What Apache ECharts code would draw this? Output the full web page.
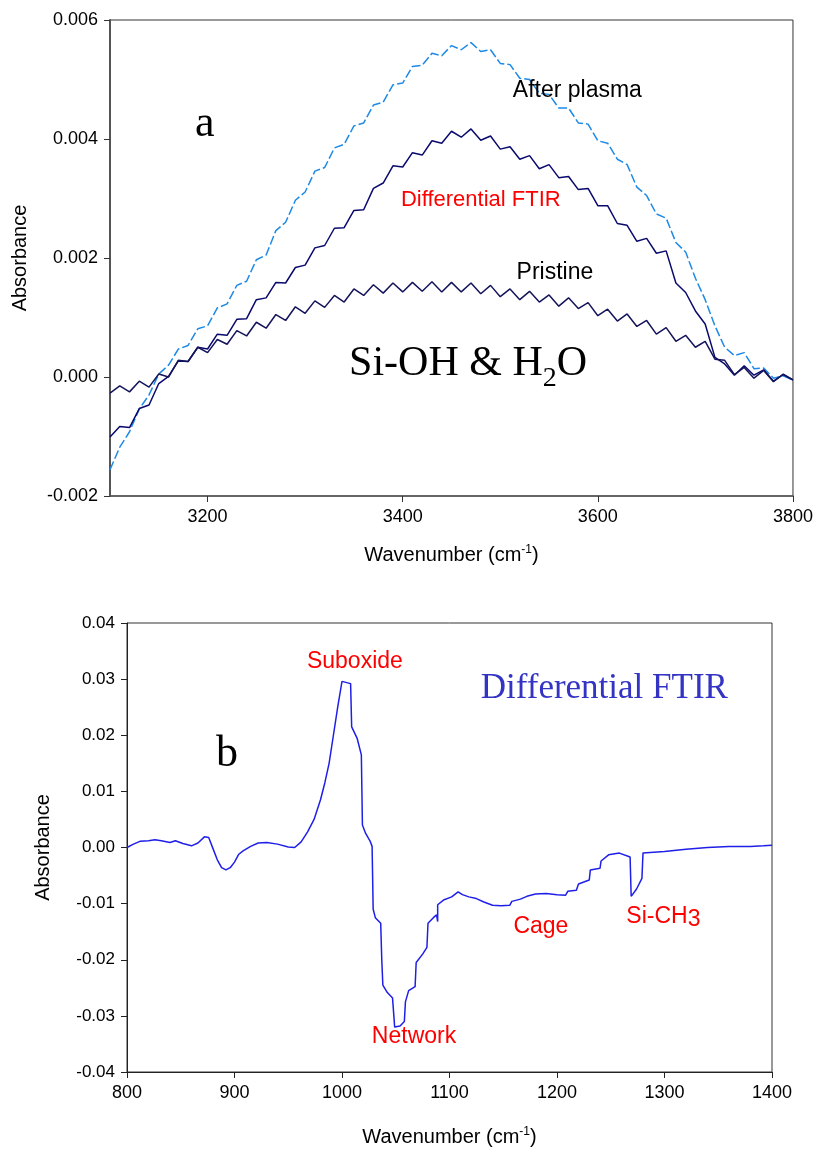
<!DOCTYPE html>
<html>
<head>
<meta charset="utf-8">
<script src="https://cdn.jsdelivr.net/npm/echarts@6/dist/echarts.min.js"></script>
<style>
html, body { margin: 0; padding: 0; background: #fff; }
#chart { width: 816px; height: 1154px; }
</style>
</head>
<body>
<div id="chart"></div>
<script>
// panel a: wavenumbers (cm-1) and absorbance
var wnTop = [3100, 3110, 3120, 3130, 3140, 3150, 3160, 3170, 3180, 3190,
    3200, 3210, 3220, 3230, 3240, 3250, 3260, 3270, 3280, 3290,
    3300, 3310, 3320, 3330, 3340, 3350, 3360, 3370, 3380, 3390,
    3400, 3410, 3420, 3430, 3440, 3450, 3460, 3470, 3480, 3490,
    3500, 3510, 3520, 3530, 3540, 3550, 3560, 3570, 3580, 3590,
    3600, 3610, 3620, 3630, 3640, 3650, 3660, 3670, 3680, 3690,
    3700, 3710, 3720, 3730, 3740, 3750, 3760, 3770, 3780, 3790, 3800];
var afterPlasma = [-0.00156, -0.00118, -0.00092, -0.00054, -0.0003, 0.00005, 0.0002, 0.00047, 0.00053, 0.00081,
    0.00086, 0.00116, 0.00123, 0.00154, 0.00161, 0.00197, 0.00205, 0.00246, 0.0026, 0.00297,
    0.00311, 0.00346, 0.00352, 0.00385, 0.00391, 0.00422, 0.00427, 0.00457, 0.00462, 0.00491,
    0.00494, 0.00522, 0.00524, 0.00544, 0.0054, 0.00557, 0.0055, 0.00562, 0.00547, 0.0055,
    0.00527, 0.00525, 0.00502, 0.005, 0.00477, 0.00475, 0.00452, 0.00452, 0.00427, 0.00425,
    0.00397, 0.00393, 0.00366, 0.00357, 0.00319, 0.00305, 0.00274, 0.00267, 0.00226, 0.0021,
    0.00166, 0.0013, 0.00086, 0.0005, 0.00036, 0.00041, 0.00014, 0.00015, -0.00002, 0.00002, -0.00005];
var diffTop = [-0.00101, -0.00083, -0.00085, -0.00053, -0.00047, -0.00011, 0.00001, 0.00027, 0.00026, 0.0005,
    0.00047, 0.00072, 0.0007, 0.00097, 0.00098, 0.0013, 0.00133, 0.00159, 0.00158, 0.00184,
    0.00188, 0.00217, 0.00221, 0.0025, 0.00251, 0.0028, 0.00281, 0.00317, 0.00326, 0.00355,
    0.00353, 0.00377, 0.00373, 0.00397, 0.00393, 0.00413, 0.00403, 0.00417, 0.00398, 0.00405,
    0.00383, 0.00387, 0.00366, 0.00372, 0.0035, 0.00357, 0.00335, 0.00337, 0.00315, 0.00317,
    0.00288, 0.00288, 0.00258, 0.00255, 0.00228, 0.00233, 0.00208, 0.00212, 0.00158, 0.00142,
    0.00111, 0.00089, 0.00033, 0.00022, 0.00003, 0.00019, 0.00003, 0.00012, -0.00007, 0.00004, -0.00005];
var pristine = [-0.00027, -0.00015, -0.00025, -0.00007, -0.00017, 0.00005, 0.0, 0.00028, 0.00026, 0.0005,
    0.00041, 0.00063, 0.00055, 0.00078, 0.00069, 0.00092, 0.00082, 0.00105, 0.00095, 0.00118,
    0.00107, 0.00128, 0.00117, 0.00137, 0.00126, 0.00148, 0.00137, 0.00155, 0.00141, 0.00158,
    0.00143, 0.00159, 0.00144, 0.0016, 0.00143, 0.00159, 0.00143, 0.00158, 0.0014, 0.00154,
    0.00135, 0.00148, 0.0013, 0.00144, 0.00126, 0.00138, 0.00119, 0.00133, 0.00115, 0.00125,
    0.00103, 0.00114, 0.00094, 0.00106, 0.00085, 0.00095, 0.00072, 0.00083, 0.0006, 0.0007,
    0.0005, 0.0006, 0.0003, 0.00028, 0.00004, 0.00016, -0.00002, 0.00011, -0.00008, 0.00005, -0.00005];
var topTicks = [3200, 3400, 3600, 3800];

// panel b: differential spectrum
var wnBottom = [800, 806, 812, 820, 826, 832, 840, 845, 852, 860, 866, 872, 876, 880, 884, 888, 892, 896,
    900, 904, 908, 915, 922, 930, 940, 950, 956, 962, 968, 974, 980, 984, 988, 992, 996,
    1000, 1008, 1009, 1014, 1018, 1019, 1022, 1026, 1028, 1029, 1031, 1036, 1037, 1038, 1042, 1047,
    1049, 1054, 1058, 1059, 1062, 1068, 1069, 1075, 1079, 1080, 1085, 1088, 1089, 1089, 1095,
    1102, 1108, 1112, 1118, 1125, 1132, 1140, 1148, 1156, 1158, 1166, 1172, 1180, 1190,
    1200, 1208, 1210, 1218, 1220, 1230, 1231, 1240, 1241, 1248, 1258, 1268, 1269, 1274, 1279, 1280,
    1300, 1320, 1340, 1360, 1380, 1392, 1400];
var absBottom = [0.0, 0.0006, 0.0011, 0.0012, 0.0014, 0.0012, 0.0009, 0.0012, 0.0007, 0.0003, 0.0008, 0.0019, 0.0018, -0.0002, -0.0022, -0.0036, -0.0040, -0.0036,
    -0.0026, -0.0012, -0.0006, 0.0002, 0.0008, 0.0009, 0.0006, 0.0001, 0.0, 0.0010, 0.0028, 0.0050, 0.0085, 0.0115, 0.0150, 0.0200, 0.0250,
    0.0296, 0.0292, 0.0215, 0.0195, 0.0165, 0.0040, 0.0025, 0.0012, 0.0002, -0.0110, -0.0125, -0.0135, -0.0200, -0.0245, -0.0258, -0.0268,
    -0.0320, -0.0318, -0.0310, -0.0275, -0.0255, -0.0248, -0.0205, -0.0190, -0.0178, -0.0135, -0.0125, -0.0120, -0.0132, -0.0102, -0.0093,
    -0.0088, -0.0079, -0.0084, -0.0088, -0.0091, -0.0097, -0.0103, -0.0104, -0.0103, -0.0096, -0.0092, -0.0087, -0.0083, -0.0082,
    -0.0084, -0.0085, -0.0078, -0.0076, -0.0065, -0.0058, -0.0040, -0.0037, -0.0024, -0.0013, -0.0010, -0.0017, -0.0087, -0.0074, -0.0055, -0.0010,
    -0.0007, -0.0003, 0.0000, 0.0002, 0.0002, 0.0003, 0.0004];

var SANS = 'Liberation Sans';
var SERIF = 'Liberation Serif';

function pairs(xs, ys) {
    return xs.map(function (x, i) { return [x, ys[i]]; });
}

function tag(coord, text, label) {
    var l = { show: true, position: 'inside', formatter: function () { return text; } };
    for (var k in label) l[k] = label[k];
    return {
        coord: coord, symbol: 'circle', symbolSize: 1,
        itemStyle: { color: 'rgba(0,0,0,0)' }, label: l
    };
}

// axis title with superscript -1
var wnTitle = '{t|Wavenumber (cm}{s|-1}{t|)}';
var nameRich = {
    t: { fontFamily: SANS, fontSize: 20, color: '#000' },
    s: { fontFamily: SANS, fontSize: 12, color: '#000', verticalAlign: 'top', padding: [0, 0, 10, 0] }
};
function plain(v) { return String(v); }

var chart = echarts.init(document.getElementById('chart'), null, { renderer: 'canvas' });
var option = {
    backgroundColor: '#fff',
    animation: false,
    grid: [
        { left: 110, right: 23, top: 20, bottom: 658, show: true, borderColor: '#333', borderWidth: 1 },
        { left: 127, right: 44, top: 623, bottom: 82, show: true, borderColor: '#333', borderWidth: 1 }
    ],
    xAxis: [{
        gridIndex: 0, type: 'value', min: 3100, max: 3800,
        name: wnTitle, nameLocation: 'middle', nameGap: 48,
        nameTextStyle: { rich: nameRich },
        axisLine: { onZero: false, lineStyle: { color: '#555', width: 1.5 } },
        axisTick: { length: 6, lineStyle: { color: '#333' }, customValues: topTicks },
        axisLabel: { fontFamily: SANS, fontSize: 18, color: '#000', margin: 12, customValues: topTicks, formatter: plain },
        splitLine: { show: false }
    }, {
        gridIndex: 1, type: 'value', min: 800, max: 1400, interval: 100,
        name: wnTitle, nameLocation: 'middle', nameGap: 54,
        nameTextStyle: { rich: nameRich },
        axisLine: { onZero: false, lineStyle: { color: '#222', width: 1 } },
        axisTick: { length: 6, lineStyle: { color: '#222' } },
        axisLabel: { fontFamily: SANS, fontSize: 18, color: '#000', margin: 12, formatter: plain },
        splitLine: { show: false }
    }],
    yAxis: [{
        gridIndex: 0, type: 'value', min: -0.002, max: 0.006, interval: 0.002,
        name: 'Absorbance', nameLocation: 'middle', nameGap: 80,
        nameTextStyle: { fontFamily: SANS, fontSize: 20, color: '#000' },
        axisLine: { onZero: false, lineStyle: { color: '#555', width: 2 } },
        axisTick: { length: 6, lineStyle: { color: '#333' } },
        axisLabel: { fontFamily: SANS, fontSize: 18, color: '#000', margin: 12,
            formatter: function (v) { return v.toFixed(3); } },
        splitLine: { show: false }
    }, {
        gridIndex: 1, type: 'value', min: -0.04, max: 0.04, interval: 0.01,
        name: 'Absorbance', nameLocation: 'middle', nameGap: 74,
        nameTextStyle: { fontFamily: SANS, fontSize: 20, color: '#000' },
        axisLine: { onZero: false, lineStyle: { color: '#222', width: 1 } },
        axisTick: { length: 6, lineStyle: { color: '#222' } },
        axisLabel: { fontFamily: SANS, fontSize: 17, color: '#000', margin: 12,
            formatter: function (v) { return v.toFixed(2); } },
        splitLine: { show: false }
    }],
    series: [{
        name: 'After plasma', type: 'line', xAxisIndex: 0, yAxisIndex: 0,
        data: pairs(wnTop, afterPlasma), showSymbol: false,
        lineStyle: { color: '#1e8ae6', width: 1.5, type: [9, 3] },
        markPoint: {
            silent: true, animation: false,
            data: [
                tag([3197, 0.00424], 'a', { fontFamily: SERIF, fontSize: 44, color: '#000' }),
                tag([3579, 0.00482], 'After plasma', { fontFamily: SANS, fontSize: 23, color: '#000' }),
                tag([3480, 0.00297], 'Differential FTIR', { fontFamily: SANS, fontSize: 22, color: '#ff0000' }),
                tag([3556, 0.00176], 'Pristine', { fontFamily: SANS, fontSize: 23, color: '#000' }),
                tag([3467, 0.00022], '{n|Si-OH & H}{d|2}{n|O}', {
                    rich: {
                        n: { fontFamily: SERIF, fontSize: 42, color: '#000' },
                        d: { fontFamily: SERIF, fontSize: 28, color: '#000', verticalAlign: 'bottom', padding: [30, 0, 0, 0] }
                    }
                })
            ]
        }
    }, {
        name: 'Differential FTIR', type: 'line', xAxisIndex: 0, yAxisIndex: 0,
        data: pairs(wnTop, diffTop), showSymbol: false,
        lineStyle: { color: '#0a0a6e', width: 1.5 }
    }, {
        name: 'Pristine', type: 'line', xAxisIndex: 0, yAxisIndex: 0,
        data: pairs(wnTop, pristine), showSymbol: false,
        lineStyle: { color: '#14145a', width: 1.5 }
    }, {
        name: 'Differential', type: 'line', xAxisIndex: 1, yAxisIndex: 1,
        data: pairs(wnBottom, absBottom), showSymbol: false,
        lineStyle: { color: '#1f1fe8', width: 1.5 },
        markPoint: {
            silent: true, animation: false,
            data: [
                tag([1012, 0.0332], 'Suboxide', { fontFamily: SANS, fontSize: 23, color: '#ff0000' }),
                tag([893, 0.0166], 'b', { fontFamily: SERIF, fontSize: 44, color: '#000' }),
                tag([1244, 0.0282], 'Differential FTIR', { fontFamily: SERIF, fontSize: 35, color: '#3333c4' }),
                tag([1067, -0.0337], 'Network', { fontFamily: SANS, fontSize: 23, color: '#ff0000' }),
                tag([1185, -0.0141], 'Cage', { fontFamily: SANS, fontSize: 23, color: '#ff0000' }),
                tag([1299, -0.0123], '{n|Si-CH}{d|3}', {
                    rich: {
                        n: { fontFamily: SANS, fontSize: 23, color: '#ff0000' },
                        d: { fontFamily: SANS, fontSize: 23, color: '#ff0000', verticalAlign: 'bottom', padding: [6, 0, 0, 0] }
                    }
                })
            ]
        }
    }]
};
chart.setOption(option);
</script>
</body>
</html>
